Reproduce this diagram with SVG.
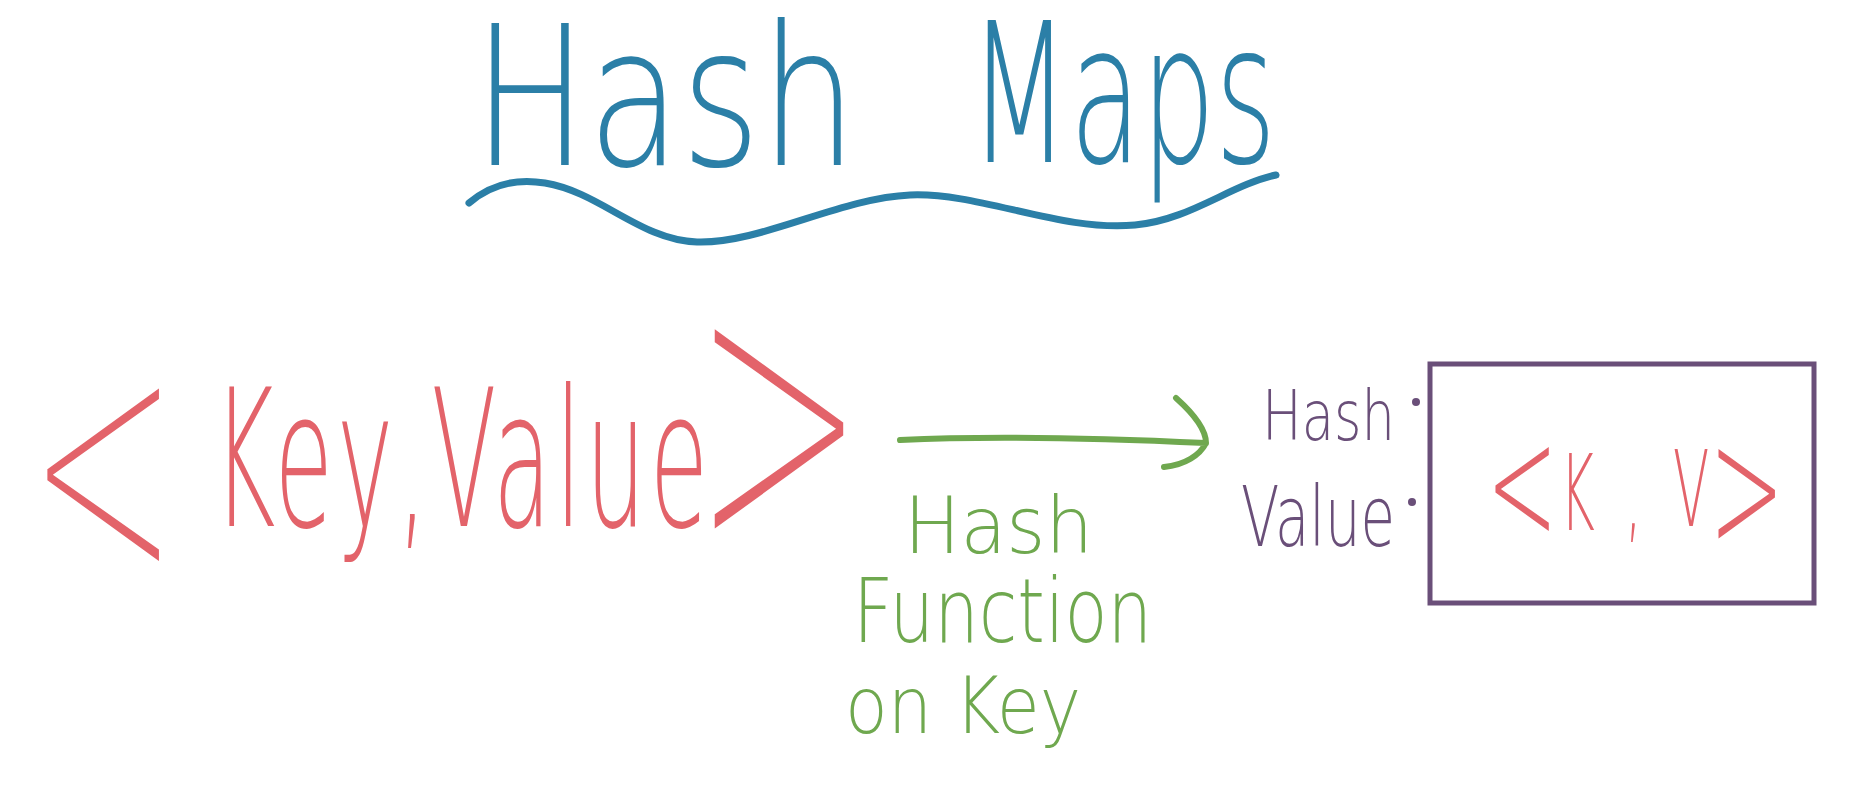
<svg xmlns="http://www.w3.org/2000/svg" width="1853" height="788" viewBox="0 0 1853 788">
<style>
text{font-family:"DejaVu Sans","Liberation Sans",sans-serif;font-weight:200}
.blue{fill:#2b7fa7}
.red{fill:#e3636a}
.green{fill:#6fa84f}
.purple{fill:#6a4f79}
.thin{stroke:#ffffff;stroke-width:6}
.line{fill:none;stroke-linecap:round;stroke-linejoin:round}
</style>
<rect width="1853" height="788" fill="#ffffff"/>
<g id="title">
<text class="blue" x="473" y="165" font-size="195" textLength="384" lengthAdjust="spacingAndGlyphs">Hash</text>
<text class="blue" x="969" y="162" font-size="195" textLength="307" lengthAdjust="spacingAndGlyphs">Maps</text>
<path class="line" stroke="#2b7fa7" stroke-width="7" d="M469,203 C490,185 515,178 545,183 C600,192 640,240 697,242 C760,244 840,198 910,195 C980,192 1060,232 1135,225 C1190,220 1230,185 1276,175"/>
</g>
<g id="keyvalue">
<text class="red" transform="scale(0.5,1)"><tspan class="thin" x="53" y="589" font-size="366">&lt;</tspan><tspan x="426" y="526" font-size="190" letter-spacing="8">Key,Value</tspan><tspan class="thin" x="1382" y="560" font-size="420">&gt;</tspan></text>
</g>
<g id="connectors">
<path class="line" stroke="#6fa84f" stroke-width="6" d="M900,440 C980,436 1100,438 1206,443 M1176,398 C1195,415 1206,430 1206,443 C1200,455 1185,465 1164,467"/>
</g>
<g id="hashfunction">
<text class="green" x="904" y="553" font-size="78" textLength="189" lengthAdjust="spacingAndGlyphs">Hash</text>
<text class="green" x="853" y="642" font-size="89" textLength="299" lengthAdjust="spacingAndGlyphs">Function</text>
<text class="green" x="845" y="733" font-size="78" textLength="236" lengthAdjust="spacingAndGlyphs">on Key</text>
</g>
<g id="hashvalue">
<text class="purple" x="1262" y="440" font-size="70" textLength="133" lengthAdjust="spacingAndGlyphs">Hash</text>
<circle class="purple" cx="1416" cy="402" r="4"/>
<text class="purple" x="1241" y="546" font-size="84" textLength="154" lengthAdjust="spacingAndGlyphs">Value</text>
<circle class="purple" cx="1412" cy="502" r="4"/>
</g>
<g id="bucket">
<rect x="1430" y="364" width="384" height="239" fill="none" stroke="#6a4f79" stroke-width="5"/>
<text class="red" transform="scale(0.5,1)"><tspan x="2973" y="542" font-size="170">&lt;</tspan><tspan x="3120" y="530" font-size="106">K</tspan><tspan x="3250" y="530" font-size="106">,</tspan><tspan x="3346" y="526" font-size="106">V</tspan><tspan x="3418" y="550" font-size="180">&gt;</tspan></text>
</g>
</svg>
